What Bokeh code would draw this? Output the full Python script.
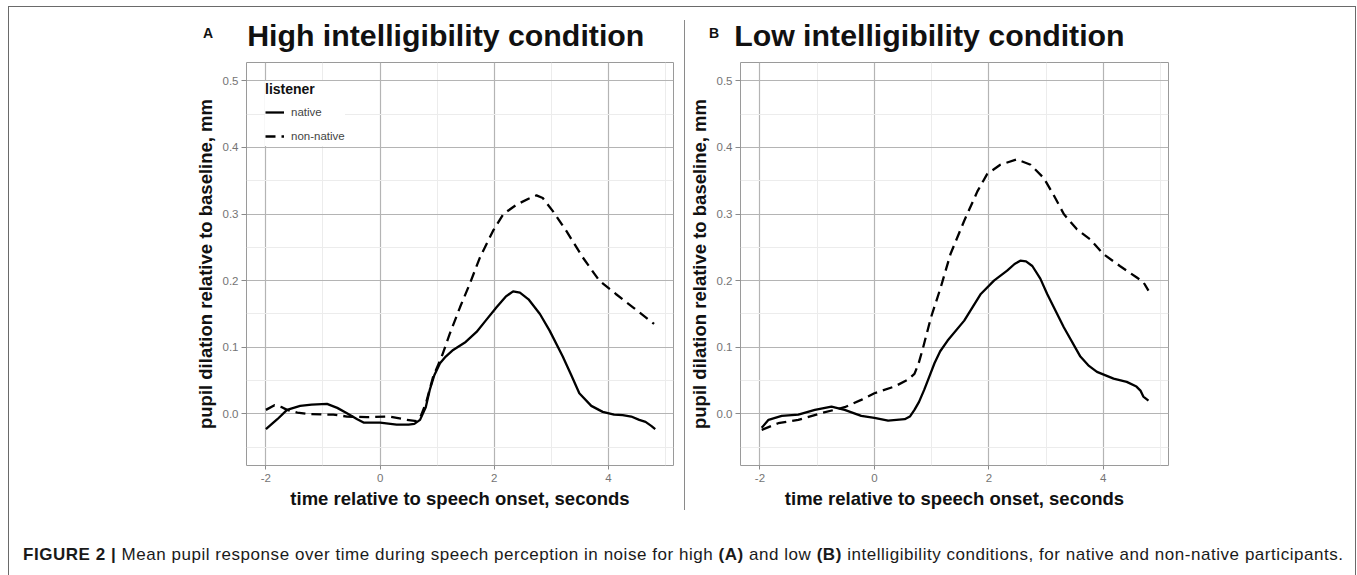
from bokeh.plotting import figure
from bokeh.models import (Range1d, FixedTicker, Legend, LegendItem, Div, NumeralTickFormatter)
from bokeh.layouts import row, column
from bokeh.embed import file_html
from bokeh.resources import INLINE

FONT = "Liberation Sans"

# ---------------- data ----------------
x_ticks = [-2, 0, 2, 4]
x_minor = [-1, 1, 3, 5]
y_ticks = [0.0, 0.1, 0.2, 0.3, 0.4, 0.5]
y_minor = [-0.05, 0.05, 0.15, 0.25, 0.35, 0.45]

# Panel A: high intelligibility
a_native_t = [-2.0, -1.8, -1.63, -1.4, -1.2, -0.93, -0.75, -0.58, -0.4, -0.29, 0.0, 0.29, 0.5,
              0.6, 0.7, 0.8, 0.87, 0.95, 1.05, 1.15, 1.28, 1.5, 1.69, 1.85, 2.04, 2.2, 2.33,
              2.45, 2.6, 2.8, 2.97, 3.2, 3.35, 3.49, 3.7, 3.9, 4.1, 4.25, 4.4, 4.54, 4.65,
              4.75, 4.82]
a_native_v = [-0.023, -0.008, 0.006, 0.012, 0.014, 0.015, 0.009, 0.001, -0.008, -0.013, -0.013,
              -0.016, -0.016, -0.015, -0.009, 0.01, 0.036, 0.058, 0.076, 0.086, 0.096, 0.108,
              0.123, 0.14, 0.16, 0.176, 0.184, 0.182, 0.172, 0.15, 0.125, 0.086, 0.058, 0.031,
              0.012, 0.003, -0.001, -0.002, -0.004, -0.009, -0.012, -0.018, -0.023]
a_nonnative_t = [-2.0, -1.85, -1.72, -1.63, -1.45, -1.28, -1.0, -0.82, -0.58, -0.23, 0.17, 0.47,
                 0.64, 0.72, 0.81, 0.93, 1.08, 1.22, 1.40, 1.57, 1.75, 1.98, 2.16, 2.39, 2.6,
                 2.74, 2.85, 3.03, 3.26, 3.55, 3.84, 4.13, 4.43, 4.80]
a_nonnative_v = [0.006, 0.013, 0.01, 0.006, 0.002, 0.0, -0.001, -0.001, -0.004, -0.005, -0.004,
                 -0.009, -0.011, -0.002, 0.018, 0.056, 0.086, 0.12, 0.16, 0.195, 0.235, 0.275,
                 0.30, 0.314, 0.323, 0.328, 0.324, 0.304, 0.275, 0.235, 0.20, 0.18, 0.16, 0.135]

# Panel B: low intelligibility
b_native_t = [-1.97, -1.85, -1.62, -1.33, -1.04, -0.75, -0.52, -0.23, 0.0, 0.24, 0.53, 0.62,
              0.70, 0.78, 0.87, 0.96, 1.05, 1.15, 1.28, 1.57, 1.86, 2.09, 2.32, 2.45, 2.55,
              2.65, 2.76, 2.9, 3.02, 3.31, 3.6, 3.75, 3.89, 4.18, 4.41, 4.58, 4.65, 4.70, 4.79]
b_native_v = [-0.021, -0.009, -0.003, -0.001, 0.006, 0.011, 0.006, -0.003, -0.006, -0.010,
              -0.008, -0.004, 0.006, 0.018, 0.036, 0.056, 0.076, 0.094, 0.11, 0.14, 0.18, 0.20,
              0.215, 0.225, 0.23, 0.229, 0.222, 0.203, 0.18, 0.13, 0.086, 0.072, 0.063, 0.053,
              0.048, 0.041, 0.035, 0.026, 0.02]
b_nonnative_t = [-1.97, -1.68, -1.33, -0.93, -0.52, -0.23, 0.0, 0.35, 0.58, 0.70, 0.77, 0.84,
                 0.99, 1.16, 1.33, 1.57, 1.80, 1.97, 2.20, 2.49, 2.73, 2.96, 3.13, 3.31, 3.54,
                 3.77, 4.00, 4.29, 4.58, 4.70, 4.79]
b_nonnative_v = [-0.024, -0.014, -0.009, 0.001, 0.010, 0.021, 0.031, 0.041, 0.051, 0.06, 0.075,
                 0.096, 0.145, 0.19, 0.24, 0.29, 0.334, 0.36, 0.374, 0.382, 0.374, 0.354, 0.329,
                 0.30, 0.277, 0.262, 0.24, 0.222, 0.205, 0.198, 0.185]

x_title = "time relative to speech onset, seconds"
y_title = "pupil dilation relative to baseline, mm"
panel_letters = ["A", "B"]
panel_titles = ["High intelligibility condition", "Low intelligibility condition"]
caption_html = ("<b>FIGURE 2 |</b> Mean pupil response over time during speech perception in noise "
                "for high <b>(A)</b> and low <b>(B)</b> intelligibility conditions, for native and "
                "non-native participants.")

# ---------------- layout geometry ----------------
HEAD_H = 50
FIG_H = 468
TOP, BOTTOM = 5, 60
CAP_H = 50
LINE = "#6a6a6a"


def make_panel(width, left, right, native_t, native_v, nn_t, nn_v, legend=False):
    p = figure(width=width, height=FIG_H, x_range=Range1d(-2.34, 5.14),
               y_range=Range1d(-0.0775, 0.5275), output_backend="svg",
               toolbar_location=None, tools="",
               min_border_left=left, min_border_right=right,
               min_border_top=TOP, min_border_bottom=BOTTOM)
    p.title.visible = False
    p.background_fill_color = "white"
    p.border_fill_color = "white"
    p.outline_line_color = "#9a9a9a"
    p.outline_line_width = 1

    xt = FixedTicker(ticks=x_ticks, minor_ticks=x_minor)
    yt = FixedTicker(ticks=y_ticks, minor_ticks=y_minor)
    p.xaxis.ticker = xt
    p.yaxis.ticker = yt
    p.xgrid.ticker = xt
    p.ygrid.ticker = yt
    for g in (p.xgrid, p.ygrid):
        g.grid_line_color = "#b4b4b4"
        g.grid_line_width = 1.2
        g.minor_grid_line_color = "#ececec"
        g.minor_grid_line_width = 1

    p.yaxis.formatter = NumeralTickFormatter(format="0.0")
    p.xaxis.major_label_overrides = {t: str(t) for t in x_ticks}
    for ax in (p.xaxis, p.yaxis):
        ax.axis_line_color = None
        ax.major_tick_line_color = "#8a8a8a"
        ax.major_tick_in = 0
        ax.minor_tick_line_color = None
        ax.major_label_text_font = FONT
        ax.major_label_text_font_size = "11.5px"
        ax.major_label_text_color = "#747474"
        ax.axis_label_text_font = FONT
        ax.axis_label_text_font_size = "18.5px"
        ax.axis_label_text_font_style = "bold"
        ax.axis_label_text_color = "#111111"
    p.xaxis.major_tick_out = 4
    p.xaxis.major_label_standoff = 4
    p.xaxis.axis_label_standoff = 3
    p.yaxis.major_tick_out = 5
    p.yaxis.major_label_standoff = 3
    p.yaxis.axis_label_standoff = 4
    p.xaxis.axis_label = x_title
    p.yaxis.axis_label = y_title

    rn = p.line(native_t, native_v, line_color="black", line_width=2.3)
    rd = p.line(nn_t, nn_v, line_color="black", line_width=2.3, line_dash="10 6")

    if legend:
        lg = Legend(items=[LegendItem(label="native", renderers=[rn]),
                           LegendItem(label="non-native", renderers=[rd])],
                    location="top_left", title="listener")
        lg.margin = 19
        lg.padding = 0
        lg.spacing = 4
        lg.glyph_width = 19
        lg.glyph_height = 20
        lg.label_height = 20
        lg.label_standoff = 7
        lg.title_standoff = 5
        lg.title_text_font = FONT
        lg.title_text_font_size = "14px"
        lg.title_text_font_style = "bold"
        lg.title_text_color = "#111111"
        lg.label_text_font = FONT
        lg.label_text_font_size = "11.5px"
        lg.label_text_color = "#444444"
        lg.background_fill_color = "white"
        lg.background_fill_alpha = 1.0
        lg.border_line_color = None
        p.add_layout(lg)
    return p


def header(width, letter, title, pad_left, gap):
    html = ('<div style="padding-left:%dpx; padding-top:11px; white-space:nowrap; '
            'font-family:\'Liberation Sans\'; font-weight:bold; color:#111; line-height:36px;">'
            '<span style="font-size:14px; position:relative; top:-8px;">%s</span>'
            '<span style="font-size:30.3px; margin-left:%dpx;">%s</span></div>'
            % (pad_left, letter, gap, title))
    return Div(width=width, height=HEAD_H, margin=0, text=html)


def vline(h, color):
    return Div(width=1, height=h, margin=0, styles={"background-color": color})


def gap(w, h):
    return Div(width=w, height=h, margin=0, text="")


pA = make_panel(675, 237, 11, a_native_t, a_native_v, a_nonnative_t, a_nonnative_v, legend=True)
pB = make_panel(670, 55, 187, b_native_t, b_native_v, b_nonnative_t, b_nonnative_v)

colA = column(header(675, panel_letters[0], panel_titles[0], 194, 34), pA, spacing=0)
colB = column(header(670, panel_letters[1], panel_titles[1], 24, 15), pB, spacing=0)
sep = column(gap(1, 13), vline(490, "#8a8a8a"), gap(1, 15), spacing=0)

caption = Div(width=1346, height=CAP_H, margin=0,
              text=('<div style="padding-left:14px; padding-top:21px; white-space:nowrap; '
                    'font-family:\'Liberation Sans\'; font-size:17px; letter-spacing:0.54px; '
                    'color:#1a1a1a; line-height:18px;">' + caption_html + '</div>'))

body = column(row(colA, sep, colB, spacing=0), caption, spacing=0)
side_h = HEAD_H + FIG_H + CAP_H
page = column(gap(1356, 6),
              row(gap(8, 1), Div(width=1348, height=1, margin=0,
                                 styles={"background-color": LINE}), spacing=0),
              row(gap(8, side_h), vline(side_h, LINE), body, vline(side_h, LINE), spacing=0),
              spacing=0)

open("out.html", "w").write(file_html(page, INLINE))
